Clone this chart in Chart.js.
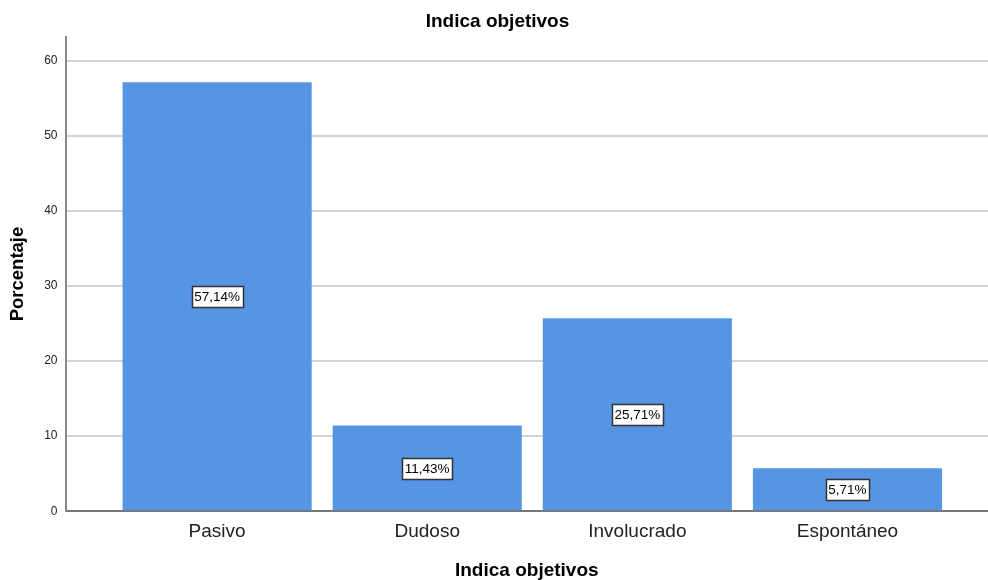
<!DOCTYPE html>
<html>
<head>
<meta charset="utf-8">
<style>
  html, body { margin: 0; padding: 0; background: #ffffff; }
  #wrap { width: 988px; height: 580px; position: relative; }
</style>
<script src="https://cdn.jsdelivr.net/npm/chart.js@4/dist/chart.umd.min.js"></script>
</head>
<body>
<div id="wrap"><canvas id="chart"></canvas></div>
<script>
const categories = ['Pasivo', 'Dudoso', 'Involucrado', 'Espontáneo'];
const percentages = [57.14, 11.43, 25.71, 5.71];
const percentLabels = ['57,14%', '11,43%', '25,71%', '5,71%'];
const yTicks = [0, 10, 20, 30, 40, 50, 60];

const font = '"Liberation Sans", Arial, sans-serif';
const colors = {
  bar: '#5595e3',
  grid: '#d4d4d4',
  axis: '#888888',
  text: '#222222'
};

// value boxes drawn halfway up each bar
const boxLabels = {
  id: 'boxLabels',
  afterDatasetsDraw(chart) {
    const { ctx, scales } = chart;
    ctx.save();
    ctx.font = '13.5px ' + font;
    ctx.textAlign = 'center';
    ctx.textBaseline = 'middle';
    percentages.forEach((value, i) => {
      const x = scales.x.getPixelForValue(i);
      const y = scales.y.getPixelForValue(value / 2);
      const w = Math.round(ctx.measureText(percentLabels[i]).width + 5);
      const h = 21;
      const left = Math.round(x - w / 2) + 0.5;
      const top = Math.round(y - h / 2) + 0.5;
      ctx.fillStyle = '#ffffff';
      ctx.fillRect(left, top, w, h);
      ctx.strokeStyle = '#333333';
      ctx.lineWidth = 1.5;
      ctx.strokeRect(left, top, w, h);
      ctx.fillStyle = '#000000';
      ctx.fillText(percentLabels[i], x, y + 1);
    });
    ctx.restore();
  }
};

new Chart(document.getElementById('chart'), {
  type: 'bar',
  data: {
    datasets: [{
      label: 'Porcentaje',
      data: percentages.map((value, i) => ({ x: i, y: value })),
      backgroundColor: colors.bar,
      borderWidth: 0,
      categoryPercentage: 0.9,
      barPercentage: 1
    }]
  },
  options: {
    responsive: true,
    maintainAspectRatio: false,
    animation: false,
    layout: { padding: { left: 7, right: 0, top: 10, bottom: 0 } },
    plugins: {
      legend: { display: false },
      tooltip: { enabled: false },
      title: {
        display: true,
        text: 'Indica objetivos',
        color: '#000000',
        font: { family: font, size: 19, weight: 'bold' },
        padding: { top: 0, bottom: 4 }
      }
    },
    scales: {
      x: {
        type: 'linear',
        offset: false,
        min: -0.7214,
        max: 3.669,
        afterBuildTicks: (scale) => {
          scale.ticks = categories.map((_, i) => ({ value: i }));
        },
        ticks: {
          color: colors.text,
          font: { family: font, size: 19 },
          padding: 9,
          maxRotation: 0,
          autoSkip: false,
          callback: (value) => categories[value] ?? ''
        },
        grid: { display: false, drawTicks: false },
        border: { color: '#777777', width: 2 },
        title: {
          display: true,
          text: 'Indica objetivos',
          color: '#000000',
          font: { family: font, size: 19, weight: 'bold', lineHeight: 1 },
          padding: { top: 9, bottom: 0 }
        }
      },
      y: {
        min: 0,
        max: 63.2,
        afterBuildTicks: (scale) => {
          scale.ticks = yTicks.map((value) => ({ value }));
        },
        ticks: {
          color: colors.text,
          font: { family: font, size: 12 },
          padding: 8
        },
        grid: { color: colors.grid, lineWidth: 2, drawTicks: false },
        border: { color: colors.axis, width: 2 },
        title: {
          display: true,
          text: 'Porcentaje',
          color: '#000000',
          font: { family: font, size: 18.5, weight: 'bold' },
          padding: { top: 0, bottom: 7 }
        }
      }
    }
  },
  plugins: [boxLabels]
});
</script>
</body>
</html>
